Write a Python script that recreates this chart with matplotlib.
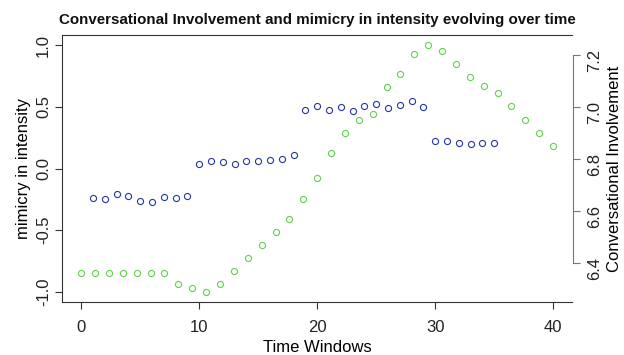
import matplotlib
matplotlib.use("Agg")
import matplotlib.pyplot as plt
import numpy as np

plt.rcParams["font.family"] = ["Liberation Sans", "DejaVu Sans"]

# mimicry in intensity (left axis), time windows 1..35
mimicry_t = list(range(1, 36))
mimicry = [
    -0.238, -0.246, -0.206, -0.225, -0.263, -0.268, -0.230, -0.241, -0.220,
    0.036, 0.057, 0.052, 0.036, 0.057, 0.061, 0.071, 0.079, 0.111,
    0.477, 0.505, 0.477, 0.502, 0.467, 0.507, 0.521, 0.491, 0.513, 0.545, 0.502,
    0.227, 0.227, 0.203, 0.195, 0.206, 0.206,
]

# conversational involvement (right axis), 35 windows spread over 0..40
involvement = [
    6.365, 6.365, 6.365, 6.365, 6.365, 6.365, 6.365, 6.322, 6.305, 6.291,
    6.322, 6.371, 6.421, 6.471, 6.522, 6.572, 6.647, 6.726, 6.825, 6.900,
    6.950, 6.974, 7.075, 7.125, 7.204, 7.237, 7.215, 7.166, 7.115, 7.081,
    7.052, 7.002, 6.951, 6.902, 6.852,
]
involvement_t = np.linspace(0, 40, len(involvement))

x_ticks = [0, 10, 20, 30, 40]
left_ticks = [-1.0, -0.5, 0.0, 0.5, 1.0]
right_ticks = [6.4, 6.6, 6.8, 7.0, 7.2]

BLUE = "#2536A8"
GREEN = "#61D04F"
FS = 12

fig = plt.figure(figsize=(6.24, 3.55), dpi=100, facecolor="white")
ax = fig.add_axes([0.0998, 0.1501, 0.8169, 0.7505])

ax.plot(mimicry_t, mimicry, "o", mfc="none", mec=BLUE, ms=4.4, mew=0.8)
ax.set_xlim(-1.6, 41.6)
ax.set_ylim(-1.08, 1.08)
ax.set_xticks(x_ticks)
ax.set_yticks(left_ticks)
ax.set_yticklabels([f"{v:.1f}" for v in left_ticks])
ax.set_xlabel("Time Windows", fontsize=FS, labelpad=4)
ax.set_ylabel("mimicry in intensity", fontsize=FS, labelpad=4)
ax.tick_params(axis="both", labelsize=FS, length=5, width=0.8, color="#333333",
               labelcolor="#222222")
ax.tick_params(axis="x", pad=8)
ax.tick_params(axis="y", pad=3, labelrotation=90)
for lab in ax.get_yticklabels():
    lab.set_va("center")
ax.spines["right"].set_visible(False)
for s in ("left", "top", "bottom"):
    ax.spines[s].set_linewidth(0.8)
    ax.spines[s].set_color("#333333")

ax2 = ax.twinx()
ax2.plot(involvement_t, involvement, "o", mfc="none", mec=GREEN, ms=4.4, mew=0.8)
lo, hi = min(involvement), max(involvement)
pad = (hi - lo) * 0.04
ax2.set_ylim(lo - pad, hi + pad)
ax2.set_yticks(right_ticks)
ax2.set_yticklabels([f"{v:.1f}" for v in right_ticks])
ax2.tick_params(axis="y", labelsize=FS, length=5, width=0.8, color="#777777",
                labelcolor="#222222", pad=5, labelrotation=90)
for lab in ax2.get_yticklabels():
    lab.set_va("center")
ax2.set_ylabel("Conversational Involvement", fontsize=FS, rotation=90, va="center")
ax2.yaxis.set_label_coords(1.083, 0.5)
for s in ("left", "top", "bottom"):
    ax2.spines[s].set_visible(False)
ax2.spines["right"].set_bounds(right_ticks[0], right_ticks[-1])
ax2.spines["right"].set_position(("outward", 1))
ax2.spines["right"].set_color("#777777")
ax2.spines["right"].set_linewidth(0.8)

fig.text(0.509, 0.945, "Conversational Involvement and mimicry in intensity evolving over time",
         fontsize=10.9, fontweight="bold", ha="center", va="center", color="#111111")

fig.savefig("out.png", dpi=100, facecolor="white")
